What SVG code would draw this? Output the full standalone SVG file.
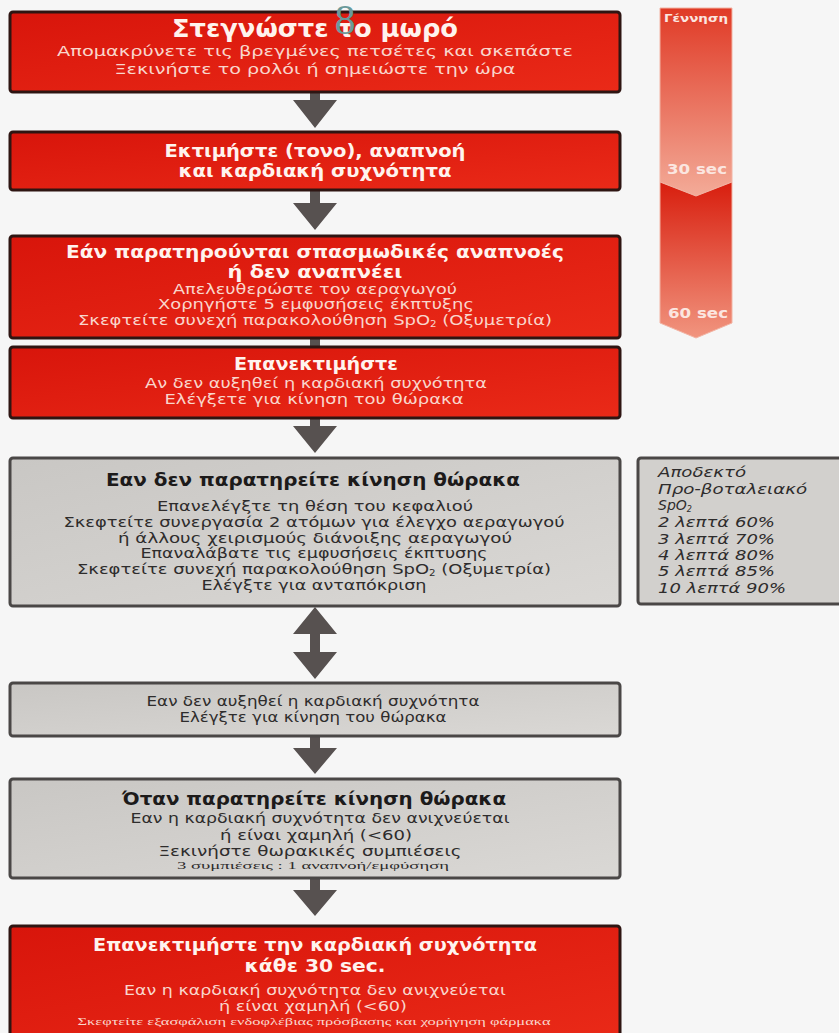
<svg xmlns="http://www.w3.org/2000/svg" width="839" height="1033" viewBox="0 0 839 1033">
<defs>
<linearGradient id="gRed" x1="0" y1="0" x2="1" y2="1">
<stop offset="0" stop-color="#d8150b"/>
<stop offset="1" stop-color="#ea2a18"/>
</linearGradient>
<linearGradient id="gGrey" x1="0" y1="0" x2="1" y2="1">
<stop offset="0" stop-color="#c9c7c4"/>
<stop offset="1" stop-color="#dad8d5"/>
</linearGradient>
<linearGradient id="gT1" x1="0" y1="0" x2="0" y2="1">
<stop offset="0" stop-color="#e03a26"/>
<stop offset="1" stop-color="#f3ab98"/>
</linearGradient>
<linearGradient id="gT2" x1="0" y1="0" x2="0" y2="1">
<stop offset="0" stop-color="#d81e0e"/>
<stop offset="1" stop-color="#f1957f"/>
</linearGradient>
</defs>
<style>
.red{fill:url(#gRed);stroke:#2e1512;stroke-width:3}
.grey{fill:url(#gGrey);stroke:#4a4746;stroke-width:3}
.side{fill:#d2d0cd;stroke:#4a4746;stroke-width:3}
.arr{fill:#575150}
text{font-family:"DejaVu Sans","Liberation Sans",sans-serif;text-anchor:middle}
.rt{fill:#fff3ee;font-weight:bold}
.rb{fill:#f9d6cc;font-size:14px}
.gt{fill:#1c1a1a;font-weight:bold;font-size:18px}
.gb{fill:#2e2c2c;font-size:14px}
.sm{font-family:"Liberation Serif",serif;font-size:10px}
.it{font-style:italic;fill:#2e2c2c;font-size:14px;text-anchor:start}
.tl{fill:#fbe6e0;font-weight:bold}
.sub{font-size:8px}
.eight{font-family:"Liberation Serif",serif;font-size:42px;fill:#6a9a9a;text-anchor:middle}
</style>
<rect width="839" height="1033" fill="#f6f6f6"/>

<g id="timeline">
<path d="M660,8 H732 V182 L696,196 L660,182 Z" fill="url(#gT1)" stroke="#f2b4a4" stroke-width="1"/>
<path d="M660,182 L696,196 L732,182 V323 L696,338 L660,323 Z" fill="url(#gT2)" stroke="#f2b4a4" stroke-width="1"/>
<text class="tl" x="696" y="22" font-size="11" textLength="64" lengthAdjust="spacingAndGlyphs">Γέννηση</text>
<text class="tl" x="697" y="174" font-size="14" textLength="60" lengthAdjust="spacingAndGlyphs">30 sec</text>
<text class="tl" x="698" y="318" font-size="14" textLength="60" lengthAdjust="spacingAndGlyphs">60 sec</text>
</g>

<g id="connectors">
<path class="arr" d="M310,92 H320 V100 H337 L315,128 L293,100 H310 Z"/>
<path class="arr" d="M310,190 H320 V203 H337 L315,230 L293,203 H310 Z"/>
<rect class="arr" x="310" y="338" width="10" height="9"/>
<path class="arr" d="M310,418 H320 V426 H337 L315,453 L293,426 H310 Z"/>
<path class="arr" d="M315,607 L337,634 H320 V652 H337 L315,679 L293,652 H310 V634 H293 Z"/>
<path class="arr" d="M310,736 H320 V748 H337 L315,774 L293,748 H310 Z"/>
<path class="arr" d="M310,878 H320 V890 H337 L315,916 L293,890 H310 Z"/>
</g>

<g id="n1">
<rect class="red" x="10" y="12" width="610" height="80" rx="3"/>
<text class="rt" x="315" y="37" font-size="24" textLength="286" lengthAdjust="spacingAndGlyphs">Στεγνώστε το μωρό</text>
<text class="rb" x="315" y="56" textLength="516" lengthAdjust="spacingAndGlyphs">Απομακρύνετε τις βρεγμένες πετσέτες και σκεπάστε</text>
<text class="rb" x="315" y="74" textLength="401" lengthAdjust="spacingAndGlyphs">Ξεκινήστε το ρολόι ή σημειώστε την ώρα</text>
<text class="eight" x="345" y="34">8</text>
</g>

<g id="n2">
<rect class="red" x="10" y="132" width="610" height="58" rx="3"/>
<text class="rt" x="315" y="157" font-size="17" textLength="301" lengthAdjust="spacingAndGlyphs">Εκτιμήστε (τονο), αναπνοή</text>
<text class="rt" x="315" y="177" font-size="17" textLength="273" lengthAdjust="spacingAndGlyphs">και καρδιακή συχνότητα</text>
</g>

<g id="n3">
<rect class="red" x="10" y="236" width="610" height="102" rx="3"/>
<text class="rt" x="315" y="258" font-size="18" textLength="498" lengthAdjust="spacingAndGlyphs">Εάν παρατηρούνται σπασμωδικές αναπνοές</text>
<text class="rt" x="315" y="278" font-size="18" textLength="175" lengthAdjust="spacingAndGlyphs">ή δεν αναπνέει</text>
<text class="rb" x="315" y="294" textLength="284" lengthAdjust="spacingAndGlyphs">Απελευθερώστε τον αεραγωγού</text>
<text class="rb" x="316" y="309" textLength="316" lengthAdjust="spacingAndGlyphs">Χορηγήστε 5 εμφυσήσεις έκπτυξης</text>
<text class="rb" x="315" y="325" textLength="474" lengthAdjust="spacingAndGlyphs">Σκεφτείτε συνεχή παρακολούθηση SpO<tspan class="sub" dy="2">2</tspan><tspan dy="-2"> (Οξυμετρία)</tspan></text>
</g>

<g id="n4">
<rect class="red" x="10" y="347" width="610" height="71" rx="3"/>
<text class="rt" x="316" y="370" font-size="17" textLength="164" lengthAdjust="spacingAndGlyphs">Επανεκτιμήστε</text>
<text class="rb" x="316" y="388" textLength="342" lengthAdjust="spacingAndGlyphs">Αν δεν αυξηθεί η καρδιακή συχνότητα</text>
<text class="rb" x="314" y="404" textLength="299" lengthAdjust="spacingAndGlyphs">Ελέγξετε για κίνηση του θώρακα</text>
</g>

<g id="n5">
<rect class="grey" x="10" y="458" width="610" height="148" rx="3"/>
<text class="gt" x="313" y="486" textLength="414" lengthAdjust="spacingAndGlyphs">Εαν δεν παρατηρείτε κίνηση θώρακα</text>
<text class="gb" x="315" y="511" textLength="316" lengthAdjust="spacingAndGlyphs">Επανελέγξτε τη θέση του κεφαλιού</text>
<text class="gb" x="314" y="527" textLength="501" lengthAdjust="spacingAndGlyphs">Σκεφτείτε συνεργασία 2 ατόμων για έλεγχο αεραγωγού</text>
<text class="gb" x="315" y="543" textLength="394" lengthAdjust="spacingAndGlyphs">ή άλλους χειρισμούς διάνοιξης αεραγωγού</text>
<text class="gb" x="314" y="558" textLength="347" lengthAdjust="spacingAndGlyphs">Επαναλάβατε τις εμφυσήσεις έκπτυσης</text>
<text class="gb" x="314" y="574" textLength="474" lengthAdjust="spacingAndGlyphs">Σκεφτείτε συνεχή παρακολούθηση SpO<tspan class="sub" dy="2">2</tspan><tspan dy="-2"> (Οξυμετρία)</tspan></text>
<text class="gb" x="314" y="590" textLength="225" lengthAdjust="spacingAndGlyphs">Ελέγξτε για ανταπόκριση</text>
</g>

<g id="n_side">
<rect class="side" x="638" y="458" width="206" height="146" rx="3"/>
<text class="it" x="658" y="477" textLength="88" lengthAdjust="spacingAndGlyphs">Αποδεκτό</text>
<text class="it" x="658" y="494" textLength="149" lengthAdjust="spacingAndGlyphs">Προ-βοταλειακό</text>
<text class="it" x="658" y="510">SpO<tspan class="sub" dy="2">2</tspan></text>
<text class="it" x="658" y="527" textLength="117" lengthAdjust="spacingAndGlyphs">2 λεπτά 60%</text>
<text class="it" x="658" y="544" textLength="117" lengthAdjust="spacingAndGlyphs">3 λεπτά 70%</text>
<text class="it" x="658" y="560" textLength="117" lengthAdjust="spacingAndGlyphs">4 λεπτά 80%</text>
<text class="it" x="658" y="576" textLength="117" lengthAdjust="spacingAndGlyphs">5 λεπτά 85%</text>
<text class="it" x="658" y="593" textLength="128" lengthAdjust="spacingAndGlyphs">10 λεπτά 90%</text>
</g>

<g id="n6">
<rect class="grey" x="10" y="683" width="610" height="53" rx="3"/>
<text class="gb" x="313" y="706" textLength="333" lengthAdjust="spacingAndGlyphs">Εαν δεν αυξηθεί η καρδιακή συχνότητα</text>
<text class="gb" x="313" y="722" textLength="267" lengthAdjust="spacingAndGlyphs">Ελέγξτε για κίνηση του θώρακα</text>
</g>

<g id="n7">
<rect class="grey" x="10" y="779" width="610" height="99" rx="3"/>
<text class="gt" x="314" y="805" textLength="384" lengthAdjust="spacingAndGlyphs">Όταν παρατηρείτε κίνηση θώρακα</text>
<text class="gb" x="320" y="823" font-size="15" textLength="379" lengthAdjust="spacingAndGlyphs">Εαν η καρδιακή συχνότητα δεν ανιχνεύεται</text>
<text class="gb" x="316" y="840" font-size="15" textLength="192" lengthAdjust="spacingAndGlyphs">ή είναι χαμηλή (&lt;60)</text>
<text class="gb" x="310" y="856" font-size="15" textLength="303" lengthAdjust="spacingAndGlyphs">Ξεκινήστε θωρακικές συμπιέσεις</text>
<text class="gb sm" x="313" y="869" textLength="272" lengthAdjust="spacingAndGlyphs">3 συμπιέσεις : 1 αναπνοή/εμφύσηση</text>
</g>

<g id="n8">
<rect class="red" x="10" y="926" width="610" height="120" rx="3"/>
<text class="rt" x="315" y="951" font-size="18" textLength="444" lengthAdjust="spacingAndGlyphs">Επανεκτιμήστε την καρδιακή συχνότητα</text>
<text class="rt" x="315" y="972" font-size="18" textLength="141" lengthAdjust="spacingAndGlyphs">κάθε 30 sec.</text>
<text class="rb" x="315" y="995" font-size="15" textLength="382" lengthAdjust="spacingAndGlyphs">Εαν η καρδιακή συχνότητα δεν ανιχνεύεται</text>
<text class="rb" x="313" y="1011" font-size="15" textLength="188" lengthAdjust="spacingAndGlyphs">ή είναι χαμηλή (&lt;60)</text>
<text class="rb sm" x="314" y="1025" font-size="11" textLength="473" lengthAdjust="spacingAndGlyphs">Σκεφτείτε εξασφάλιση ενδοφλέβιας πρόσβασης και χορήγηση φάρμακα</text>
</g>
</svg>
